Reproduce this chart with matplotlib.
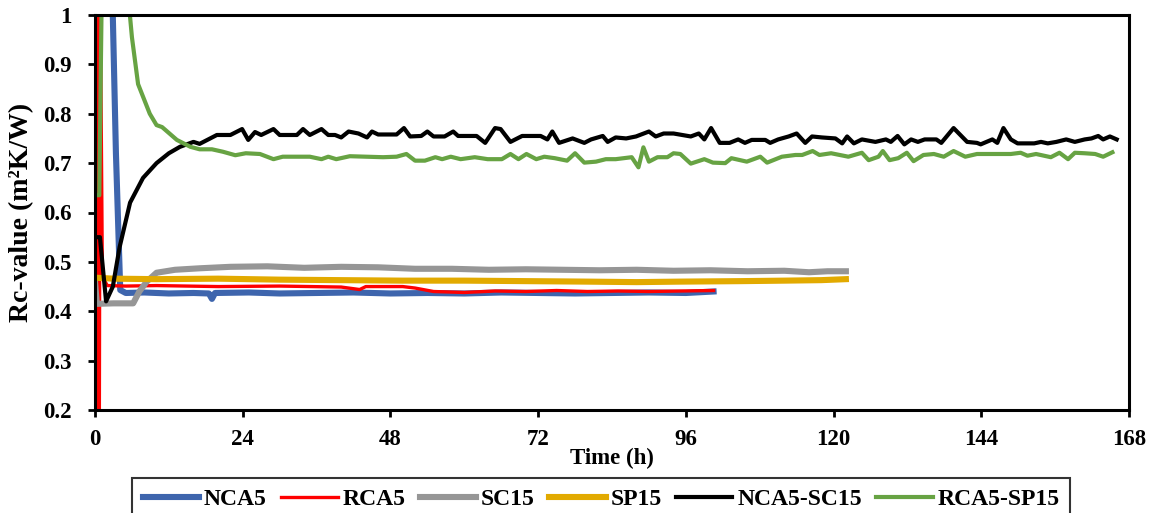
"""Rc-value over time for the six test series."""

import matplotlib
matplotlib.use("Agg")
import matplotlib.pyplot as plt

# (time h, Rc-value)
nca5 = [(2.8, 1.05), (3.4, 0.72), (4.1, 0.443), (5, 0.437), (8, 0.438), (12, 0.436),
        (16, 0.437), (18.5, 0.436), (19, 0.425), (19.5, 0.437), (25, 0.438), (30, 0.436),
        (36, 0.437), (42, 0.438), (48, 0.436), (54, 0.437), (60, 0.436), (66, 0.438),
        (72, 0.437), (78, 0.436), (84, 0.437), (90, 0.438), (96, 0.437), (100.5, 0.44)]

rca5 = [(0, 1.05), (0.45, 1.05), (0.55, 0.15), (0.7, 0.15), (0.85, 1.05), (1.2, 0.47),
        (2.0, 0.452), (5, 0.451), (10, 0.452), (20, 0.45), (30, 0.451), (40, 0.449),
        (43, 0.444), (44, 0.45), (50, 0.45), (52, 0.447), (55, 0.44), (60, 0.438),
        (65, 0.441), (70, 0.44), (75, 0.442), (80, 0.44), (85, 0.441), (90, 0.44),
        (95, 0.441), (100.5, 0.442)]

sc15 = [(0, 0.46), (0.3, 0.415), (3, 0.416), (6.2, 0.416), (7.2, 0.44), (8.4, 0.46),
        (10, 0.478), (13, 0.484), (17, 0.487), (22, 0.49), (28, 0.491), (34, 0.488),
        (40, 0.49), (46, 0.489), (52, 0.486), (58, 0.486), (64, 0.484), (70, 0.485),
        (76, 0.484), (82, 0.483), (88, 0.484), (94, 0.482), (100, 0.483), (106, 0.481),
        (112, 0.482), (116, 0.479), (119, 0.481), (122, 0.481)]

sp15 = [(0, 0.468), (3, 0.466), (10, 0.465), (20, 0.466), (30, 0.464), (40, 0.463),
        (50, 0.462), (60, 0.462), (70, 0.461), (80, 0.460), (88, 0.459), (95, 0.460),
        (105, 0.461), (112, 0.462), (118, 0.463), (122, 0.465)]

nca5_sc15 = [(0, 0.55), (0.8, 0.55), (1.8, 0.42), (2.9, 0.45), (4.0, 0.53), (5.7, 0.62),
             (7.8, 0.67), (10, 0.70), (12, 0.72), (13.8, 0.733), (16, 0.743), (17, 0.739),
             (19.8, 0.757), (22, 0.757), (23.9, 0.769), (24.9, 0.747), (26, 0.763), (27, 0.757),
             (29, 0.769), (30, 0.757), (32.8, 0.757), (33.8, 0.769), (34.9, 0.757), (36.8, 0.769),
             (37.9, 0.757), (39, 0.757), (40, 0.752), (41.2, 0.764), (42.8, 0.760), (44.2, 0.752),
             (45, 0.764), (46, 0.758), (49, 0.758), (50.2, 0.771), (51.2, 0.754), (53, 0.755),
             (54, 0.764), (55, 0.754), (56.8, 0.754), (58.2, 0.764), (59, 0.755), (62, 0.755),
             (63.4, 0.741), (65, 0.771), (65.9, 0.769), (67.5, 0.743), (69.4, 0.755), (72.4, 0.755),
             (73.5, 0.748), (74.3, 0.764), (75.4, 0.741), (77.6, 0.750), (79.5, 0.741), (80.6, 0.748),
             (82.5, 0.755), (83.3, 0.743), (84.6, 0.752), (86.3, 0.750), (87.9, 0.754), (90, 0.764),
             (91.1, 0.754), (92.4, 0.760), (94, 0.760), (96.8, 0.754), (98.1, 0.760), (99, 0.748),
             (100.1, 0.771), (101.5, 0.741), (103.1, 0.741), (104.5, 0.748), (105.6, 0.741),
             (106.7, 0.747), (108.9, 0.747), (109.7, 0.741), (111, 0.748), (112.7, 0.754),
             (114, 0.760), (115.4, 0.741), (116.5, 0.754), (118.1, 0.752), (120.3, 0.750),
             (121.4, 0.740), (122.2, 0.754), (123.3, 0.740), (124.6, 0.748), (126.8, 0.743),
             (128.5, 0.748), (129.3, 0.743), (130.4, 0.755), (131.5, 0.738), (132.6, 0.748),
             (133.7, 0.743), (134.8, 0.748), (136.7, 0.748), (137.5, 0.741), (139.5, 0.771),
             (141.7, 0.743), (143.3, 0.741), (143.9, 0.738), (145.8, 0.748), (146.6, 0.741),
             (147.6, 0.771), (148.8, 0.748), (149.9, 0.740), (152.6, 0.740), (153.7, 0.743),
             (154.8, 0.740), (156.2, 0.743), (157.8, 0.748), (159.2, 0.743), (160.8, 0.748),
             (161.9, 0.750), (163, 0.755), (163.8, 0.748), (164.9, 0.754), (166, 0.748)]

rca5_sp15 = [(0, 0.635), (0.7, 0.635), (1.1, 1.05), (5.3, 1.05), (6, 0.955), (7, 0.86),
             (8.9, 0.80), (10, 0.777), (10.9, 0.773), (13.3, 0.747), (15.5, 0.733), (17, 0.728),
             (19, 0.728), (20.8, 0.723), (22.8, 0.716), (24.5, 0.72), (26.8, 0.7185), (29, 0.708),
             (30.5, 0.713), (34.9, 0.713), (36.8, 0.708), (37.9, 0.713), (39.2, 0.708), (41.4, 0.714),
             (46.8, 0.712), (49, 0.713), (50.6, 0.7185), (52, 0.705), (53.6, 0.705), (55.3, 0.712),
             (56.4, 0.708), (57.8, 0.713), (59.4, 0.708), (61.7, 0.712), (63.8, 0.708), (66.1, 0.708),
             (67.5, 0.7185), (68.8, 0.708), (70.1, 0.7185), (71.7, 0.708), (73, 0.713), (74.7, 0.71),
             (76.7, 0.705), (78, 0.72), (79.5, 0.701), (81.4, 0.703), (83, 0.708), (84.6, 0.708),
             (87.2, 0.712), (88.3, 0.6915), (89.1, 0.732), (90, 0.703), (91.4, 0.712), (93, 0.712),
             (94, 0.72), (95.1, 0.7185), (96.8, 0.699), (99, 0.708), (100.4, 0.701), (102.4, 0.70),
             (103.4, 0.71), (105.9, 0.703), (108.1, 0.713), (109.2, 0.701), (111.6, 0.713),
             (113.8, 0.7165), (114.9, 0.7165), (116.6, 0.7245), (117.7, 0.7165), (119.6, 0.72),
             (122.4, 0.713), (124.6, 0.721), (125.7, 0.706), (127.3, 0.713), (128, 0.7245),
             (129.1, 0.706), (130.5, 0.71), (131.9, 0.721), (133, 0.704), (134.6, 0.7165),
             (136.3, 0.7185), (137.9, 0.713), (139.5, 0.7245), (141.4, 0.713), (143.3, 0.7185),
             (148.8, 0.7185), (150.4, 0.721), (151.5, 0.715), (152.9, 0.7185), (155.3, 0.712),
             (156.7, 0.721), (158.1, 0.708), (159.2, 0.721), (160.8, 0.72), (162.5, 0.7185),
             (163.8, 0.713), (165.3, 0.722)]

series = [
    ("NCA5", nca5, "#3E65AD", 4.4),
    ("RCA5", rca5, "#FF0000", 2.4),
    ("SC15", sc15, "#969696", 4.4),
    ("SP15", sp15, "#E2AA00", 4.4),
    ("NCA5-SC15", nca5_sc15, "#000000", 3.0),
    ("RCA5-SP15", rca5_sp15, "#67A343", 3.0),
]

x_ticks = list(range(0, 169, 24))
y_ticks = [0.2, 0.3, 0.4, 0.5, 0.6, 0.7, 0.8, 0.9, 1.0]
y_tick_labels = ["0.2", "0.3", "0.4", "0.5", "0.6", "0.7", "0.8", "0.9", "1"]

plt.rcParams["font.family"] = ["Liberation Serif", "DejaVu Serif"]
plt.rcParams["font.weight"] = "bold"

fig = plt.figure(figsize=(11.57, 5.13), dpi=100)
ax = fig.add_axes([95 / 1157, 1 - 410 / 513, (1129 - 95) / 1157, (410 - 15) / 513])

for name, pts, color, lw in series:
    t, v = zip(*pts)
    ax.plot(t, v, color=color, lw=lw, label=name, solid_joinstyle="round")

ax.set_xlim(0, 168)
ax.set_ylim(0.2, 1.0)
ax.set_xticks(x_ticks)
ax.set_yticks(y_ticks)
ax.set_yticklabels(y_tick_labels)
ax.tick_params(axis="both", direction="out", length=5, width=2, labelsize=16.5)
ax.tick_params(axis="x", pad=9)
ax.tick_params(axis="y", pad=12)
for s in ax.spines.values():
    s.set_linewidth(2.2)

ax.set_xlabel("Time (h)", fontsize=16.5, fontweight="bold", labelpad=-2)
ax.set_ylabel("Rc-value (m²K/W)", fontsize=20, fontweight="bold", labelpad=6)

leg = fig.legend(loc="upper center", bbox_to_anchor=(0.5195, 1 - 478 / 513), ncol=6,
                 fontsize=17, frameon=True, fancybox=False, edgecolor="black",
                 handlelength=2.4, handletextpad=0.2, columnspacing=0.6,
                 borderpad=0.45, borderaxespad=0)
leg.get_frame().set_linewidth(1.5)

fig.savefig("out.png", dpi=100)
